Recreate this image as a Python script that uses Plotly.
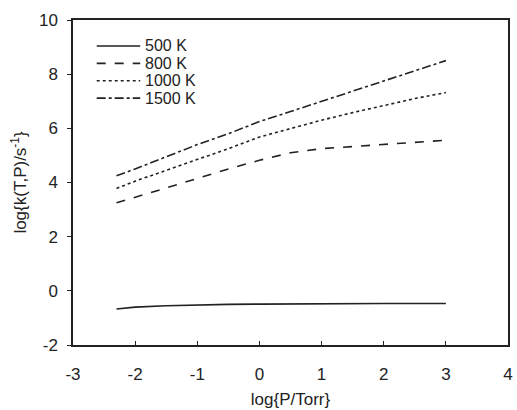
import plotly.graph_objects as go

log_p = [-2.3, -2.0, -1.5, -1.0, -0.5, 0.0, 0.5, 1.0, 1.5, 2.0, 2.5, 3.0]
k_500 = [-0.67, -0.60, -0.55, -0.52, -0.50, -0.49, -0.48, -0.47, -0.47, -0.47, -0.47, -0.47]
k_800 = [3.25, 3.45, 3.80, 4.15, 4.50, 4.82, 5.10, 5.25, 5.33, 5.40, 5.48, 5.56]
k_1000 = [3.78, 4.05, 4.45, 4.85, 5.25, 5.68, 6.00, 6.30, 6.58, 6.85, 7.10, 7.32]
k_1500 = [4.25, 4.50, 4.95, 5.40, 5.80, 6.25, 6.62, 7.00, 7.38, 7.75, 8.12, 8.50]

names = ["500 K", "800 K", "1000 K", "1500 K"]
series = [k_500, k_800, k_1000, k_1500]
dashes = ["solid", "dash", "dot", "dashdot"]

x_ticks = [-3, -2, -1, 0, 1, 2, 3, 4]
y_ticks = [-2, 0, 2, 4, 6, 8, 10]

INK = "#222222"
FONT = "Liberation Sans, Arial, sans-serif"
FS = 17
LEG_FS = 16

fig = go.Figure()
for name, ys, d in zip(names, series, dashes):
    fig.add_trace(go.Scatter(x=log_p, y=ys, mode="lines", name=name,
                             line=dict(color=INK, width=1.6, dash=d),
                             showlegend=False))

# manual legend (compact spacing like the original)
leg_y = [0.920, 0.8665, 0.813, 0.7595]
for name, d, yy in zip(names, dashes, leg_y):
    fig.add_shape(type="line", xref="paper", yref="paper",
                  x0=0.0545, x1=0.1545, y0=yy, y1=yy,
                  line=dict(color=INK, width=1.6, dash=d))
    fig.add_annotation(xref="paper", yref="paper", x=0.163, y=yy,
                       text=name, showarrow=False, xanchor="left",
                       yanchor="middle", borderpad=0,
                       font=dict(family=FONT, size=LEG_FS, color=INK))

fig.update_layout(
    width=517, height=410,
    margin=dict(l=73, r=4, t=20, b=65),
    paper_bgcolor="white", plot_bgcolor="white",
    font=dict(family=FONT, size=FS, color=INK),
    showlegend=False,
)
fig.update_xaxes(range=[-3, 4], tickvals=x_ticks, ticktext=[str(v) for v in x_ticks],
                 showgrid=False, zeroline=False, showline=True, linecolor=INK,
                 linewidth=1.5, mirror=True, ticks="inside", ticklen=4,
                 tickcolor=INK, tickfont=dict(size=FS), ticklabelstandoff=13,
                 title=dict(text="log{P/Torr}", font=dict(size=FS), standoff=10))
fig.update_yaxes(range=[-2, 10], tickvals=y_ticks, ticktext=[str(v) for v in y_ticks],
                 showgrid=False, zeroline=False, showline=True, linecolor=INK,
                 linewidth=1.5, mirror=True, ticks="outside", ticklen=4,
                 tickcolor=INK, tickfont=dict(size=FS), ticklabelstandoff=6,
                 title=dict(text="log{k(T,P)/s<sup>-1</sup>}", font=dict(size=FS), standoff=8))

fig.write_html("out.html")
